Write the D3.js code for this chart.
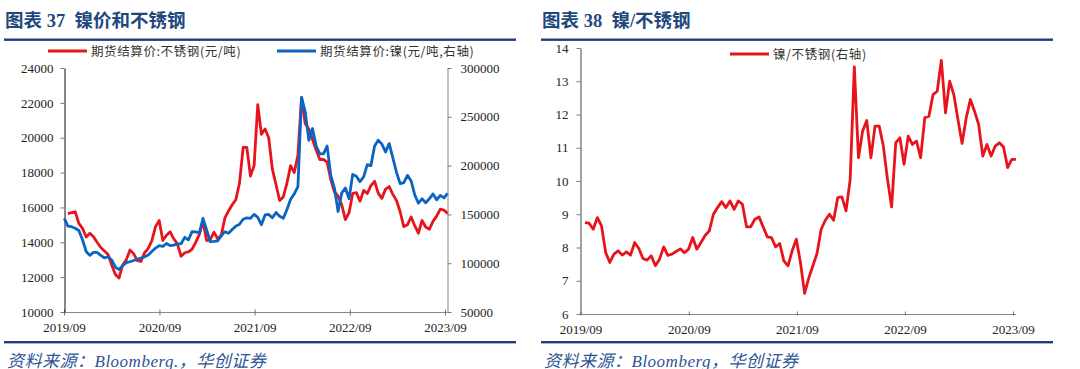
<!DOCTYPE html>
<html>
<head>
<meta charset="utf-8">
<script src="https://cdn.jsdelivr.net/npm/d3@7"></script>
<style>
  html, body { margin: 0; padding: 0; background: #fff; }
  svg { display: block; }
  .ax text { font-family: "Liberation Serif", "Times New Roman", serif; font-size: 13px; fill: #222; }
  .pre { white-space: pre; }
</style>
</head>
<body>
<svg id="chart" width="1080" height="369"></svg>
<script>
// ---------- data (biweekly observations starting 2019-09-02) ----------
const startDate = "2019-09-02";
const stepDays = 14;

// 期货结算价:不锈钢 (元/吨), left axis
const stainless = [
  null, 15650, 15700, 15750, 15080, 14800, 14300, 14520, 14320, 14000,
  13700, 13500, 13300, 12700, 12150, 11950, 12700, 13000, 13560, 13350,
  12950, 12900, 13400, 13650, 14100, 14900, 15250, 14100, 14400, 14600,
  14200, 13900, 13200, 13400, 13450, 13600, 14000, 14450, 15200, 14100,
  14150, 14580, 14200, 14400, 15400, 15800, 16150, 16450, 17400, 19450,
  19450, 17800, 18400, 21900, 20200, 20500, 20000, 18200, 17300, 16400,
  16600, 17400, 18400, 18000, 19000, 22300, 20800, 20500, 19900, 19300,
  18750, 18750, 18600, 17600, 16900, 16650, 16150, 15300, 15700, 16800,
  16850, 16350, 16980, 16800, 17250, 17500, 16820, 16520, 17050, 17200,
  16750, 16400, 15750, 14900, 15000, 15450, 14950, 14520, 15250, 14880,
  14750, 15200, 15500, 15900, 15850, 15650
];

// 期货结算价:镍 (元/吨), right axis
const nickel = [
  146000, 138000, 137400, 135800, 133500, 124000, 112000, 108000, 111000, 111000,
  108000, 105500, 106500, 103300, 96000, 93500, 97500, 100500, 101500, 102800,
  104000, 105300, 106500, 108500, 112000, 115500, 118000, 117200, 120200, 118000,
  118500, 119800, 120000, 126500, 123800, 132300, 132000, 131000, 146000, 134000,
  122000, 122300, 122800, 128000, 132300, 130600, 134500, 138000, 140000, 145000,
  146500, 146000, 150000, 147000, 139500, 149400, 150000, 146500, 152000, 148000,
  146000, 155000, 165500, 171000, 178500, 270000, 255000, 226000, 238000, 220000,
  212000, 212000, 220000, 190000, 177000, 153000, 172000, 177000, 166000, 191000,
  189000, 183500, 188500, 201000, 200000, 220000, 226000, 222000, 214000, 222500,
  208000, 193000, 181500, 182500, 190000, 184500, 170000, 161500, 166000, 162000,
  166000, 171000, 165000, 169500, 167000, 171600
];

// 镍/不锈钢 ratio
const ratio = [
  null, 8.75, 8.73, 8.55, 8.90, 8.65, 7.85, 7.55, 7.80, 7.90,
  7.77, 7.87, 7.77, 8.15, 7.97, 7.67, 7.62, 7.75, 7.45, 7.65,
  8.02, 7.76, 7.80, 7.88, 7.96, 7.84, 7.95, 8.30, 7.95, 8.15,
  8.36, 8.50, 9.00, 9.20, 9.38, 9.20, 9.40, 9.15, 9.40, 9.30,
  8.62, 8.62, 8.85, 8.92, 8.62, 8.32, 8.30, 8.02, 8.12, 7.60,
  7.45, 7.90, 8.25, 7.55, 6.62, 7.08, 7.45, 7.82, 8.55, 8.82,
  9.00, 8.82, 9.50, 9.52, 9.10, 10.05, 13.43, 10.70, 11.50, 11.82,
  10.70, 11.65, 11.65, 11.05, 10.05, 9.22, 11.15, 11.30, 10.50, 11.35,
  11.10, 11.20, 10.70, 11.90, 11.95, 12.60, 12.70, 13.63, 12.05, 13.00,
  12.60, 11.85, 11.13, 11.90, 12.45, 12.10, 11.70, 10.75, 11.10, 10.75,
  11.05, 11.15, 11.02, 10.40, 10.65, 10.65
];

const xTickDates = ["2019-09-01", "2020-09-01", "2021-09-01", "2022-09-01", "2023-09-01"];
const xTickLabels = ["2019/09", "2020/09", "2021/09", "2022/09", "2023/09"];
const leftTicks = [10000, 12000, 14000, 16000, 18000, 20000, 22000, 24000];
const rightTicks = [50000, 100000, 150000, 200000, 250000, 300000];
const ratioTicks = [6, 7, 8, 9, 10, 11, 12, 13, 14];

const titles = ["图表 37  镍价和不锈钢", "图表 38  镍/不锈钢"];
const legend1 = ["期货结算价:不锈钢(元/吨)", "期货结算价:镍(元/吨,右轴)"];
const legend2 = ["镍/不锈钢(右轴)"];
const sources = ["资料来源：Bloomberg.，华创证券", "资料来源：Bloomberg，华创证券"];

// ---------- setup ----------
const parse = d3.timeParse("%Y-%m-%d");
const start = parse(startDate);
const dates = stainless.map((_, i) => d3.timeDay.offset(start, i * stepDays));
const tickDates = xTickDates.map(parse);
const tickLabelOf = d => xTickLabels[tickDates.findIndex(t => +t === +d)];

const RED = "#E8141C";
const BLUE = "#0A64C2";
const NAVY = "#1F3F7F";
const TITLE = "#1F497D";
const SRC = "#2E5496";
const CJK = '"Liberation Serif", "Noto Sans CJK SC", serif';

const svg = d3.select("#chart");

function frame(x0, x1, title, source) {
  svg.append("text").attr("class", "pre").attr("x", x0 + 1).attr("y", 26.5)
    .attr("font-family", CJK).attr("font-weight", "bold")
    .attr("font-size", 18.5).attr("fill", TITLE).text(title);
  svg.append("rect").attr("x", x0).attr("y", 38.5).attr("width", x1 - x0).attr("height", 2.4).attr("fill", NAVY);
  svg.append("rect").attr("x", x0).attr("y", 341).attr("width", x1 - x0).attr("height", 2.4).attr("fill", NAVY);
  svg.append("text").attr("x", x0 + 3).attr("y", 366.5)
    .attr("font-family", CJK).attr("font-style", "italic")
    .attr("font-size", 17).attr("letter-spacing", 0.5).attr("fill", SRC).text(source);
}

function legendItem(x, y, color, label) {
  svg.append("line").attr("x1", x).attr("x2", x + 39).attr("y1", y).attr("y2", y)
    .attr("stroke", color).attr("stroke-width", 3);
  svg.append("text").attr("x", x + 43).attr("y", y + 4.5)
    .attr("font-family", '"Noto Sans CJK SC", sans-serif').attr("font-size", 12.5)
    .attr("letter-spacing", 0.6).attr("fill", "#333").text(label);
}

function styleAxis(g, domainColor) {
  g.attr("class", "ax");
  g.select(".domain").attr("stroke", domainColor).attr("stroke-width", 1);
  g.selectAll(".tick line").attr("stroke", "#777");
}

// ---------- Chart 37 ----------
frame(4, 516, titles[0], sources[0]);
legendItem(48, 51, RED, legend1[0]);
legendItem(277, 51, BLUE, legend1[1]);

const x1 = d3.scaleTime().domain([tickDates[0], tickDates[4]]).range([64, 445]);
const yL = d3.scaleLinear().domain([10000, 24000]).range([312, 68]);
const yR = d3.scaleLinear().domain([50000, 300000]).range([312, 68]);

svg.append("line").attr("x1", 64).attr("x2", 447.5).attr("y1", 312.5).attr("y2", 312.5)
  .attr("stroke", "#888").attr("stroke-width", 1);
const gB1 = svg.append("g").attr("transform", "translate(0,312.5)")
  .call(d3.axisBottom(x1).tickValues(tickDates).tickSize(4).tickSizeOuter(0).tickPadding(6).tickFormat(tickLabelOf));
styleAxis(gB1, "none");
gB1.selectAll(".tick line").attr("y1", -3).attr("y2", 3);

const gL1 = svg.append("g").attr("transform", "translate(64.5,0)")
  .call(d3.axisLeft(yL).tickValues(leftTicks).tickSize(4).tickSizeOuter(0).tickPadding(7).tickFormat(d3.format("d")));
styleAxis(gL1, "#111");

const gR1 = svg.append("g").attr("transform", "translate(447.5,0)")
  .call(d3.axisRight(yR).tickValues(rightTicks).tickSize(4).tickSizeOuter(0).tickPadding(9).tickFormat(d3.format("d")));
styleAxis(gR1, "#888");

const lineL = d3.line().defined(d => d != null).x((d, i) => x1(dates[i])).y(d => yL(d));
const lineR = d3.line().defined(d => d != null).x((d, i) => x1(dates[i])).y(d => yR(d));
svg.append("path").datum(stainless).attr("d", lineL)
  .attr("fill", "none").attr("stroke", RED).attr("stroke-width", 2.8).attr("stroke-linejoin", "round");
svg.append("path").datum(nickel).attr("d", lineR)
  .attr("fill", "none").attr("stroke", BLUE).attr("stroke-width", 2.8).attr("stroke-linejoin", "round");

// ---------- Chart 38 ----------
frame(541, 1053, titles[1], sources[1]);
legendItem(730, 54, RED, legend2[0]);

const x2 = d3.scaleTime().domain([tickDates[0], tickDates[4]]).range([580.5, 1013]);
const y2 = d3.scaleLinear().domain([6, 14]).range([314, 48]);

svg.append("line").attr("x1", 580.5).attr("x2", 1016).attr("y1", 314.5).attr("y2", 314.5)
  .attr("stroke", "#888").attr("stroke-width", 1);
const gB2 = svg.append("g").attr("transform", "translate(0,314.5)")
  .call(d3.axisBottom(x2).tickValues(tickDates).tickSize(4).tickSizeOuter(0).tickPadding(6).tickFormat(tickLabelOf));
styleAxis(gB2, "none");
gB2.selectAll(".tick line").attr("y1", -3).attr("y2", 1);

const gL2 = svg.append("g").attr("transform", "translate(580.5,0)")
  .call(d3.axisLeft(y2).tickValues(ratioTicks).tickSize(4).tickSizeOuter(0).tickPadding(8).tickFormat(d3.format("d")));
styleAxis(gL2, "#444");

const line2 = d3.line().defined(d => d != null).x((d, i) => x2(dates[i])).y(d => y2(d));
svg.append("path").datum(ratio).attr("d", line2)
  .attr("fill", "none").attr("stroke", RED).attr("stroke-width", 2.8).attr("stroke-linejoin", "round");
</script>
</body>
</html>
